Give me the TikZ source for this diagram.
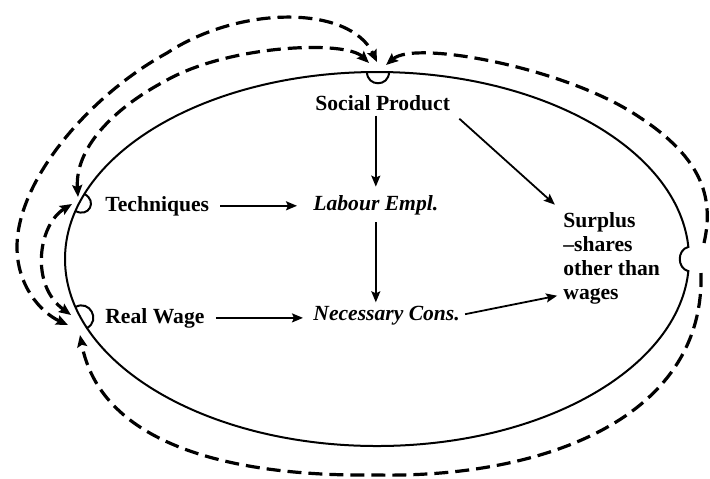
\documentclass[tikz,border=0pt]{standalone}
\usepackage{fontspec}
\setmainfont{Liberation Serif}
\usetikzlibrary{arrows.meta}
\begin{document}
\begin{tikzpicture}[x=0.5pt,y=-0.5pt,
  lbl/.style={inner sep=0pt, font=\fontsize{10.8}{12}\selectfont\bfseries},
  ilbl/.style={inner sep=0pt, font=\fontsize{10.8}{12}\selectfont\bfseries\itshape},
  arr/.style={line width=0.9pt, -{Stealth[length=5.5pt,width=4.5pt,inset=1pt]}},
  fb/.style={line width=1.6pt, dash pattern=on 7pt off 3.5pt},
  fbtip/.style={fb, -{Stealth[length=6pt,width=5pt,inset=1pt]}},
  fbboth/.style={fb, {Stealth[length=6pt,width=5pt,inset=1pt]}-{Stealth[length=6pt,width=5pt,inset=1pt]}},
  circ/.style={line width=1pt}]
\useasboundingbox (0,0) rectangle (710,478);

% main circuit
\draw[circ] (377,259) ellipse [x radius=312, y radius=187];
\fill[white] (684,248) rectangle (696,270);
% ports
\draw[circ] (688,247) .. controls (677,250) and (677,268) .. (688,271);
\draw[circ] (367,72) .. controls (367,87) and (389,87) .. (389,72);
\draw[circ] (84.4,194) .. controls (97.7,201) and (88.8,218) .. (75.5,211);
\draw[circ] (75.5,307) .. controls (89.5,299.3) and (101,320.3) .. (87,328);

% arrow end points at the ports
\coordinate (t1) at (377,62);
\coordinate (t2) at (369,63);
\coordinate (t3) at (386,65);
\coordinate (tc1) at (78,197);
\coordinate (tc2) at (72,204);
\coordinate (rw1) at (68,325);
\coordinate (rw2) at (71,315);
\coordinate (rw3) at (80,335);
\coordinate (rp1) at (704,243);
\coordinate (rp2) at (701,273);

% labels
\node[lbl, anchor=base west] (sp) at (315,110) {Social Product};
\node[ilbl, anchor=base west] (le) at (313,210) {Labour Empl.};
\node[ilbl, anchor=base west] (nc) at (313,320) {Necessary Cons.};
\node[lbl, anchor=base west] (tech) at (105,211) {Techniques};
\node[lbl, anchor=base west] (rw) at (105,323) {Real Wage};
\node[lbl, anchor=north west, align=left] (sur) at (563,212) {Surplus\\--shares\\other than\\wages};

% solid connectors
\draw[arr, shorten <=2.5pt, shorten >=4pt] (le.north |- sp.south) -- (le.north);
\draw[arr, shorten <=3.5pt, shorten >=1.5pt] (le.south) -- (le.south |- nc.north);
\draw[arr, shorten <=5.5pt, shorten >=8pt] (tech.east) -- (le.west |- tech.east);
\draw[arr, shorten <=5.5pt, shorten >=5pt] (rw.east) -- (nc.west |- rw.east);
\draw[arr, shorten <=6pt, shorten >=5.5pt] (sp.south east) -- (sur.north west);
\draw[arr, shorten <=2.5pt, shorten >=3pt] (nc.east) -- ([yshift=5pt]sur.south west);

% dashed feedback connectors
\draw[fbboth] (rw1) .. controls (40,312) and (17,285) .. (17,247)
  .. controls (17,180) and (90,95) .. (167,53)
  .. controls (240,5) and (350,5) .. (t1);
\draw[fbboth] (tc1) .. controls (75,150) and (110,110) .. (167,80)
  .. controls (230,45) and (345,40) .. (t2);
\draw[fbboth] (tc2) .. controls (38,225) and (30,285) .. (rw2);
\draw[fbtip] (rp1) .. controls (715,195) and (700,155) .. (633,113)
  .. controls (560,67) and (415,40) .. (t3);
\draw[fbtip] (rp2) .. controls (705,420) and (540,478) .. (377,475)
  .. controls (220,477) and (100,440) .. (rw3);
\end{tikzpicture}
\end{document}
